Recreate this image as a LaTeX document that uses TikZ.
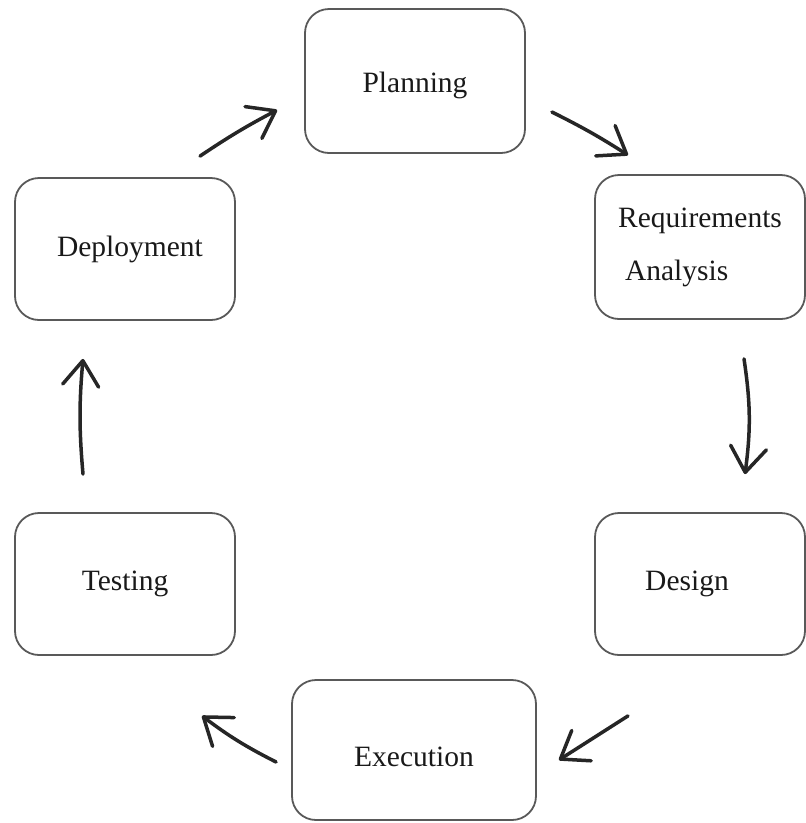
\documentclass[tikz,border=0pt]{standalone}
\usepackage{fontspec}
\setmainfont{Liberation Serif}
\usetikzlibrary{arrows.meta}

\begin{document}
\begin{tikzpicture}[
    x=1pt, y=-1pt,
    stage/.style={draw=black!65, line width=1.8pt, rounded corners=24pt,
        minimum width=220pt, minimum height=144pt, align=left,
        font=\fontsize{29.5}{53}\selectfont, text=black!90},
    flow/.style={draw=black!85, line width=3.5pt, line cap=round,
        -{Straight Barb[length=25pt, width=36pt, round]}}
]

% 画布
\useasboundingbox (0,0) rectangle (806,823);

% 阶段
\node[stage, text height=30pt] (plan) at (415,81) {Planning};
\node[stage, minimum width=210pt] (req) at (700,247) {Requirements\\\hspace*{7pt}Analysis};
\node[stage, minimum width=210pt, minimum height=142pt] (design) at (700,584) {Design\hspace*{26pt}};
\node[stage, minimum width=244pt, minimum height=140pt, text height=33pt] (exec) at (414,750) {Execution};
\node[stage, minimum height=142pt] (test) at (125,584) {Testing};
\node[stage, minimum height=142pt] (deploy) at (125,249) {\hspace*{10pt}Deployment};

% 箭头
\draw[flow] ([shift={(75pt,21pt)}]deploy.north) to[bend left=3] ([shift={(-27pt,-29pt)}]plan.west);
\draw[flow] ([shift={(26pt,-31pt)}]plan.east) to[bend left=3] ([shift={(-72pt,19pt)}]req.north);
\draw[flow] ([shift={(44pt,-39pt)}]req.south) to[bend left=8] ([shift={(45pt,38pt)}]design.north);
\draw[flow] ([shift={(-72pt,-60pt)}]design.south) -- ([shift={(22pt,-10pt)}]exec.east);
\draw[flow] ([shift={(-15pt,-12pt)}]exec.west) to[bend left=5] ([shift={(77pt,-60pt)}]test.south);
\draw[flow] ([shift={(-42pt,38pt)}]test.north) to[bend left=5] ([shift={(-42pt,-38pt)}]deploy.south);

\end{tikzpicture}
\end{document}
